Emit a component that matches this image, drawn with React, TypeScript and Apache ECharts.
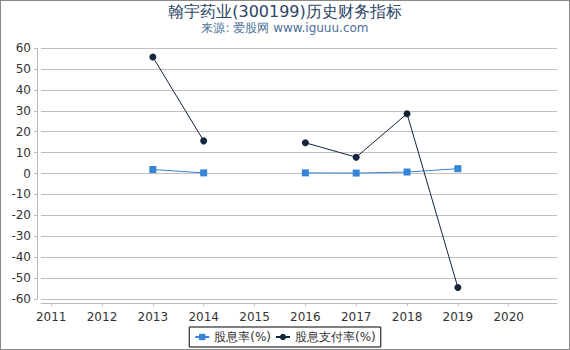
import React, { useEffect, useRef } from "react";
import * as echarts from "echarts";

const years = [2013, 2014, 2015, 2016, 2017, 2018, 2019];
const dividendYield: (number | null)[] = [1.9, 0.3, null, 0.3, 0.2, 0.7, 2.3];
const payoutRatio: (number | null)[] = [55.7, 15.6, null, 14.7, 7.8, 28.6, -54.5];
const xTickYears = [2011, 2012, 2013, 2014, 2015, 2016, 2017, 2018, 2019, 2020];
const yTicks = { min: -60, max: 60, interval: 10 };

export default function App() {
  const ref = useRef<HTMLDivElement>(null);
  useEffect(() => {
    document.body.style.margin = "0";
    const chart = echarts.init(ref.current!, null, { renderer: "svg" });
    const font = "DejaVu Sans, sans-serif";
    chart.setOption({
      animation: false,
      textStyle: { fontFamily: font },
      title: {
        text: "翰宇药业(300199)历史财务指标",
        subtext: "来源: 爱股网 www.iguuu.com",
        left: "center",
        top: -3,
        itemGap: 3,
        textStyle: { fontSize: 16, fontWeight: "normal", color: "#2b4565", fontFamily: font },
        subtextStyle: { fontSize: 12, color: "#4c6f98", fontFamily: font },
      },
      legend: {
        bottom: 2,
        left: "center",
        borderColor: "#000",
        borderWidth: 1,
        borderRadius: 0,
        padding: [4, 5],
        itemGap: 4,
        itemWidth: 14,
        itemHeight: 8,
        textStyle: { fontSize: 12, color: "#333", fontFamily: font },
        data: ["股息率(%)", "股息支付率(%)"],
      },
      grid: { left: 40, right: 12, top: 47, bottom: 50 },
      xAxis: {
        type: "value",
        min: 2010.8,
        max: 2020.95,
        offset: 4,
        axisLine: { show: true, onZero: false, lineStyle: { color: "#bbb" } },
        axisTick: { show: true, length: 3, customValues: xTickYears, lineStyle: { color: "#bbb" } },
        splitLine: { show: false },
        axisLabel: {
          color: "#333",
          fontSize: 12,
          customValues: xTickYears,
          formatter: (v: number) => String(Math.round(v)),
        },
      },
      yAxis: {
        type: "value",
        min: yTicks.min,
        max: yTicks.max,
        interval: yTicks.interval,
        offset: 4,
        axisLine: { show: true, onZero: false, lineStyle: { color: "#bbb" } },
        axisTick: { show: true, length: 3, lineStyle: { color: "#bbb" } },
        splitLine: { show: true, lineStyle: { color: "#c0c0c0" } },
        axisLabel: { color: "#333", fontSize: 12, margin: 6 },
      },
      series: [
        {
          name: "股息率(%)",
          type: "line",
          data: years.map((y, i) => [y, dividendYield[i]]),
          connectNulls: false,
          symbol: "rect",
          symbolSize: 7,
          itemStyle: { color: "#3584d8" },
          lineStyle: { color: "#3584d8", width: 1 },
        },
        {
          name: "股息支付率(%)",
          type: "line",
          data: years.map((y, i) => [y, payoutRatio[i]]),
          connectNulls: false,
          symbol: "circle",
          symbolSize: 7,
          itemStyle: { color: "#15253d" },
          lineStyle: { color: "#15253d", width: 1 },
        },
      ],
    });
    return () => chart.dispose();
  }, []);
  return (
    <div
      style={{
        position: "absolute",
        left: 0,
        top: 0,
        width: 570,
        height: 350,
        boxSizing: "border-box",
        border: "1px solid #888",
        background: "#fff",
      }}
    >
      <div ref={ref} style={{ width: 568, height: 348 }} />
    </div>
  );
}
